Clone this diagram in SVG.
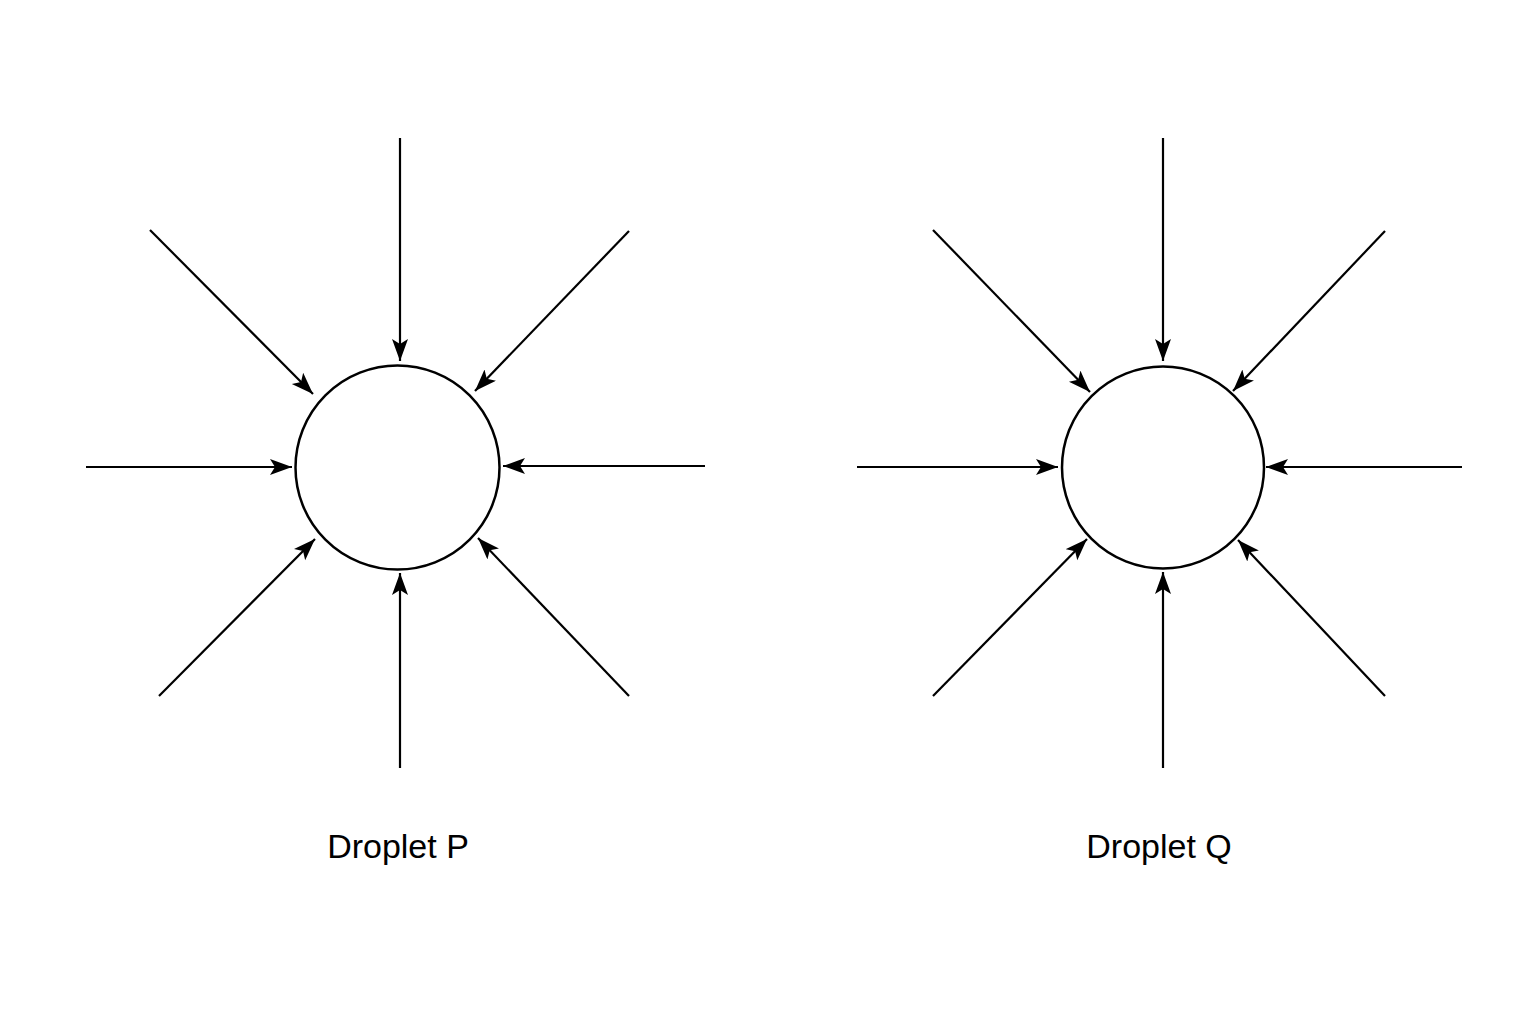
<svg xmlns="http://www.w3.org/2000/svg" width="1536" height="1024" viewBox="0 0 1536 1024">
<style>
.d{fill:#fff;stroke:#000;stroke-width:2.5}
.a{stroke:#000;stroke-width:2.2;fill:none;marker-end:url(#ah)}
.t{font-family:"Liberation Sans",Arial,sans-serif;font-size:34px;fill:#000;text-anchor:middle}
</style>
<defs>
<marker id="ah" markerWidth="24" markerHeight="18" refX="22" refY="8" orient="auto" markerUnits="userSpaceOnUse">
<path d="M0,0 L22,8 L0,16 L5,8 Z" fill="#000"/>
</marker>
</defs>
<rect width="1536" height="1024" fill="#fff"/>
<g id="dropletP">
<circle class="d" cx="397.5" cy="467.5" r="102"/>
<text class="t" x="398" y="858">Droplet P</text>
</g>
<g id="dropletQ">
<circle class="d" cx="1163" cy="467.5" r="101"/>
<text class="t" x="1159" y="858">Droplet Q</text>
</g>
<g id="connectors">
<line class="a" x1="400" y1="138" x2="400" y2="361"/>
<line class="a" x1="150" y1="230" x2="313" y2="394"/>
<line class="a" x1="629" y1="231" x2="475" y2="391"/>
<line class="a" x1="86" y1="467" x2="292" y2="467"/>
<line class="a" x1="705" y1="466" x2="503" y2="466"/>
<line class="a" x1="159" y1="696" x2="315" y2="539"/>
<line class="a" x1="400" y1="768" x2="400" y2="573"/>
<line class="a" x1="629" y1="696" x2="478" y2="538"/>

<line class="a" x1="1163" y1="138" x2="1163" y2="361"/>
<line class="a" x1="933" y1="230" x2="1090" y2="392"/>
<line class="a" x1="1385" y1="231" x2="1233" y2="391"/>
<line class="a" x1="857" y1="467" x2="1058" y2="467"/>
<line class="a" x1="1462" y1="467" x2="1266" y2="467"/>
<line class="a" x1="933" y1="696" x2="1087" y2="539"/>
<line class="a" x1="1163" y1="768" x2="1163" y2="572"/>
<line class="a" x1="1385" y1="696" x2="1238" y2="540"/>
</g>
</svg>
